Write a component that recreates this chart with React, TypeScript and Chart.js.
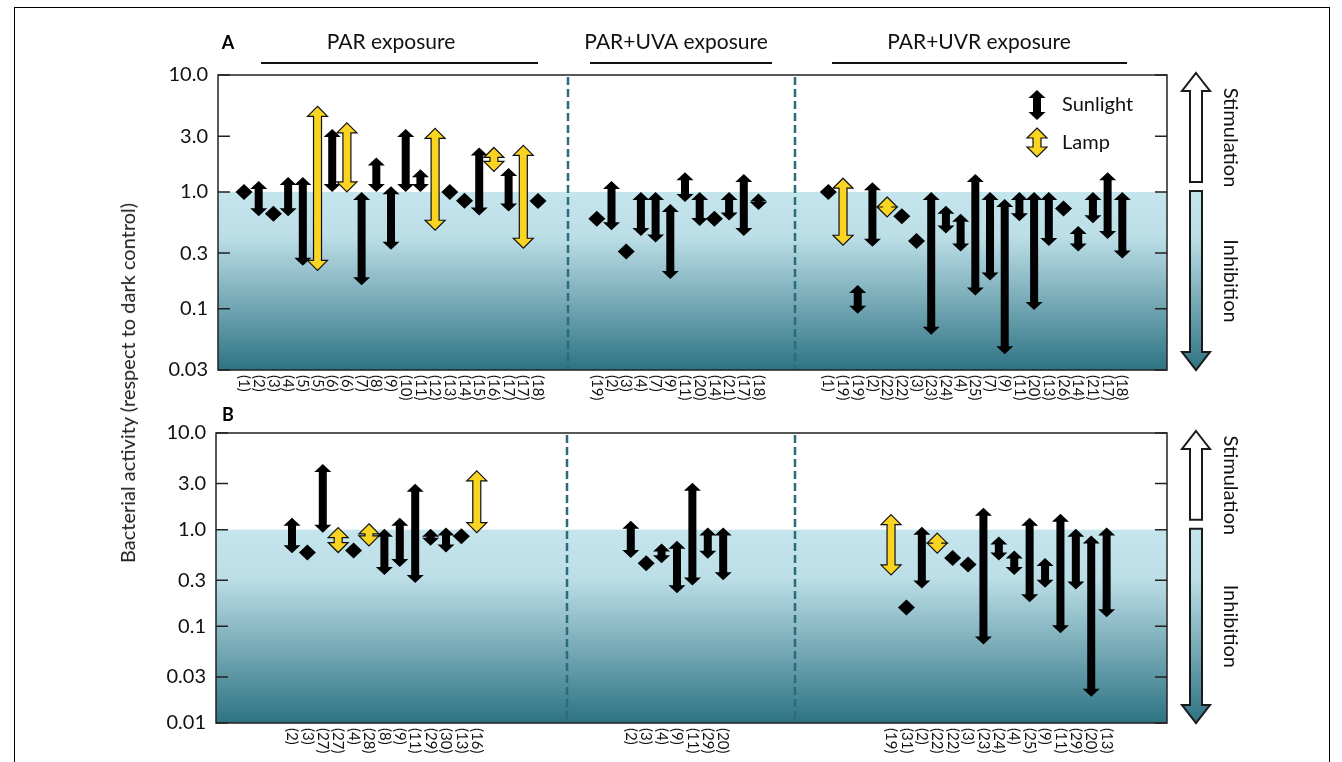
import React, { useEffect, useRef } from 'react';
import { Chart, registerables } from 'chart.js';

Chart.register(...registerables);

const FONT = 'Lato, "Open Sans", sans-serif';
const YELLOW = '#f9d422';

// ---------------- Panel A data ----------------
const aParLabels = ['(1)', '(2)', '(3)', '(4)', '(5)', '(5)', '(6)', '(6)', '(7)', '(8)', '(9)', '(10)', '(11)', '(12)', '(13)', '(14)', '(15)', '(16)', '(17)', '(17)', '(18)'];
const aParHigh = [1.0, 1.24, 0.65, 1.34, 1.34, 5.4, 3.45, 3.9, 1.0, 1.97, 1.12, 3.45, 1.56, 3.5, 1.0, 0.84, 2.4, 2.4, 1.6, 2.5, 0.97];
const aParLow = [1.0, 0.62, 0.65, 0.62, 0.234, 0.213, 1.0, 1.0, 0.159, 1.0, 0.32, 1.0, 1.0, 0.47, 1.0, 0.84, 0.63, 1.5, 0.68, 0.33, 0.72];
const aParSource = ['S', 'S', 'S', 'S', 'S', 'L', 'S', 'L', 'S', 'S', 'S', 'S', 'S', 'L', 'S', 'S', 'S', 'L', 'S', 'L', 'S'];

const aUvaLabels = ['(19)', '(2)', '(3)', '(4)', '(7)', '(9)', '(11)', '(20)', '(14)', '(21)', '(17)', '(18)'];
const aUvaHigh = [0.59, 1.24, 0.31, 1.0, 1.0, 0.79, 1.47, 1.0, 0.59, 1.0, 1.42, 0.97];
const aUvaLow = [0.59, 0.47, 0.31, 0.42, 0.37, 0.18, 0.82, 0.51, 0.59, 0.57, 0.42, 0.7];
const aUvaSource = ['S', 'S', 'S', 'S', 'S', 'S', 'S', 'S', 'S', 'S', 'S', 'S'];

const aUvrLabels = ['(1)', '(19)', '(19)', '(2)', '(22)', '(22)', '(3)', '(23)', '(24)', '(4)', '(25)', '(7)', '(9)', '(11)', '(20)', '(13)', '(26)', '(14)', '(21)', '(17)', '(18)'];
const aUvrHigh = [1.0, 1.31, 0.16, 1.21, 0.85, 0.62, 0.38, 1.0, 0.76, 0.65, 1.42, 1.0, 0.87, 1.0, 1.0, 1.0, 0.72, 0.51, 1.0, 1.47, 1.0];
const aUvrLow = [1.0, 0.35, 0.091, 0.34, 0.65, 0.62, 0.38, 0.06, 0.44, 0.31, 0.13, 0.175, 0.041, 0.56, 0.098, 0.345, 0.72, 0.31, 0.54, 0.395, 0.27];
const aUvrSource = ['S', 'L', 'S', 'S', 'L', 'S', 'S', 'S', 'S', 'S', 'S', 'S', 'S', 'S', 'S', 'S', 'S', 'S', 'S', 'S', 'S'];

// ---------------- Panel B data ----------------
const bParLabels = ['(2)', '(3)', '(27)', '(27)', '(4)', '(28)', '(8)', '(9)', '(11)', '(29)', '(30)', '(13)', '(16)'];
const bParHigh = [1.33, 0.65, 4.79, 1.05, 0.73, 1.15, 1.02, 1.33, 2.98, 1.02, 1.05, 1.02, 4.05];
const bParLow = [0.57, 0.52, 0.93, 0.58, 0.51, 0.68, 0.34, 0.41, 0.28, 0.68, 0.58, 0.72, 0.93];
const bParSource = ['S', 'S', 'S', 'L', 'S', 'L', 'S', 'S', 'S', 'S', 'S', 'S', 'L'];

const bUvaLabels = ['(2)', '(3)', '(4)', '(9)', '(11)', '(29)', '(20)'];
const bUvaHigh = [1.24, 0.45, 0.72, 0.77, 3.05, 1.05, 1.05];
const bUvaLow = [0.51, 0.45, 0.45, 0.22, 0.265, 0.5, 0.3];
const bUvaSource = ['S', 'S', 'S', 'S', 'S', 'S', 'S'];

const bUvrLabels = ['(19)', '(31)', '(2)', '(22)', '(22)', '(3)', '(23)', '(24)', '(4)', '(25)', '(9)', '(11)', '(29)', '(20)', '(13)'];
const bUvrHigh = [1.43, 0.157, 1.07, 0.91, 0.51, 0.435, 1.69, 0.85, 0.61, 1.33, 0.51, 1.46, 1.02, 0.87, 1.05];
const bUvrLow = [0.34, 0.157, 0.246, 0.58, 0.51, 0.435, 0.065, 0.48, 0.34, 0.177, 0.25, 0.085, 0.24, 0.0187, 0.124];
const bUvrSource = ['L', 'S', 'S', 'L', 'S', 'S', 'S', 'S', 'S', 'S', 'S', 'S', 'S', 'S', 'S'];

// ---------------- Axis ticks & texts ----------------
const aYTicks = [0.03, 0.1, 0.3, 1, 3, 10];
const aYTickLabels = ['0.03', '0.1', '0.3', '1.0', '3.0', '10.0'];
const bYTicks = [0.01, 0.03, 0.1, 0.3, 1, 3, 10];
const bYTickLabels = ['0.01', '0.03', '0.1', '0.3', '1.0', '3.0', '10.0'];
const sectionTitles = ['PAR exposure', 'PAR+UVA exposure', 'PAR+UVR exposure'];
const legendLabels = ['Sunlight', 'Lamp'];
const sideLabels = ['Stimulation', 'Inhibition'];
const yTitle = 'Bacterial activity (respect to dark control)';

type Sec = { labels: string[]; high: number[]; low: number[]; src: string[] };

type PanelCfg = {
  top: number;
  height: number;
  padding: { left: number; right: number; top: number; bottom: number };
  yMin: number;
  yMax: number;
  yTicks: number[];
  yTickLabels: string[];
  xMin: number;
  xMax: number;
  sections: Sec[];
  starts: number[];
  dividers: number[];
  letter: string;
  letterPos: [number, number];
  headers?: { text: string; at: number; line: [number, number] }[];
  legend?: boolean;
};

function arrowPath(ctx: CanvasRenderingContext2D, x: number, yA: number, yB: number, hw: number, hl: number, sw: number) {
  let t = Math.min(yA, yB);
  let b = Math.max(yA, yB);
  if (b - t < 2 * hl) {
    const m = (t + b) / 2;
    t = m - hl;
    b = m + hl;
  }
  ctx.beginPath();
  ctx.moveTo(x, t);
  ctx.lineTo(x + hw, t + hl);
  ctx.lineTo(x + sw, t + hl);
  ctx.lineTo(x + sw, b - hl);
  ctx.lineTo(x + hw, b - hl);
  ctx.lineTo(x, b);
  ctx.lineTo(x - hw, b - hl);
  ctx.lineTo(x - sw, b - hl);
  ctx.lineTo(x - sw, t + hl);
  ctx.lineTo(x - hw, t + hl);
  ctx.closePath();
}

function drawSun(ctx: CanvasRenderingContext2D, x: number, yA: number, yB: number) {
  arrowPath(ctx, x, yA, yB, 8.5, 8, 4);
  ctx.fillStyle = '#000';
  ctx.fill();
}

function drawLamp(ctx: CanvasRenderingContext2D, x: number, yA: number, yB: number) {
  arrowPath(ctx, x, yA, yB, 10, 10, 4);
  ctx.fillStyle = YELLOW;
  ctx.fill();
  ctx.lineWidth = 1.2;
  ctx.strokeStyle = '#111';
  ctx.lineJoin = 'miter';
  ctx.stroke();
}

function makeDatasets(sections: Sec[], starts: number[]) {
  const sun: any[] = [];
  const lamp: any[] = [];
  sections.forEach((s, si) => {
    s.labels.forEach((lab, i) => {
      const p = { x: starts[si] + i, y: s.high[i], low: s.low[i], label: lab };
      (s.src[i] === 'L' ? lamp : sun).push(p);
    });
  });
  return [
    { label: legendLabels[0], data: sun, pointRadius: 0, showLine: false, backgroundColor: '#000', borderColor: '#000' },
    { label: legendLabels[1], data: lamp, pointRadius: 0, showLine: false, backgroundColor: YELLOW, borderColor: '#000' },
  ];
}

function arrowPathSingle(ctx: CanvasRenderingContext2D, x: number, t: number, b: number, up: boolean) {
  const hw = 14;
  const hl = 18;
  const sw = 6;
  ctx.beginPath();
  if (up) {
    ctx.moveTo(x, t);
    ctx.lineTo(x + hw, t + hl);
    ctx.lineTo(x + sw, t + hl);
    ctx.lineTo(x + sw, b);
    ctx.lineTo(x - sw, b);
    ctx.lineTo(x - sw, t + hl);
    ctx.lineTo(x - hw, t + hl);
  } else {
    ctx.moveTo(x - sw, t);
    ctx.lineTo(x + sw, t);
    ctx.lineTo(x + sw, b - hl);
    ctx.lineTo(x + hw, b - hl);
    ctx.lineTo(x, b);
    ctx.lineTo(x - hw, b - hl);
    ctx.lineTo(x - sw, b - hl);
  }
  ctx.closePath();
}

function makeDecor(cfg: PanelCfg) {
  return {
    id: 'decor' + cfg.letter,
    beforeDraw(chart: any) {
      const { ctx, chartArea: ca, scales } = chart;
      const x = scales.x;
      const y = scales.y;
      const y1 = y.getPixelForValue(1);
      ctx.save();
      ctx.fillStyle = '#ffffff';
      ctx.fillRect(ca.left, ca.top, ca.width, y1 - ca.top);
      const g = ctx.createLinearGradient(0, y1, 0, ca.bottom);
      g.addColorStop(0, '#c5e5ed');
      g.addColorStop(0.25, '#bcdee7');
      g.addColorStop(1, '#2e7383');
      ctx.fillStyle = g;
      ctx.fillRect(ca.left, y1, ca.width, ca.bottom - y1);
      ctx.strokeStyle = '#2b6b7c';
      ctx.lineWidth = 2.5;
      ctx.setLineDash([8, 4]);
      cfg.dividers.forEach((v) => {
        const px = Math.round(x.getPixelForValue(v));
        ctx.beginPath();
        ctx.moveTo(px, ca.top + 2);
        ctx.lineTo(px, ca.bottom);
        ctx.stroke();
      });
      ctx.restore();
    },
    afterDatasetsDraw(chart: any) {
      const { ctx, chartArea: ca, scales } = chart;
      const x = scales.x;
      const y = scales.y;
      ctx.save();
      // marks
      chart.data.datasets.forEach((ds: any, di: number) => {
        ds.data.forEach((p: any) => {
          const px = x.getPixelForValue(p.x);
          const pt = y.getPixelForValue(p.y);
          const pb = y.getPixelForValue(p.low);
          if (di === 1) drawLamp(ctx, px, pt, pb);
          else drawSun(ctx, px, pt, pb);
        });
      });
      // frame
      ctx.strokeStyle = '#222';
      ctx.lineWidth = 1.5;
      ctx.strokeRect(ca.left, ca.top, ca.width, ca.height);
      // inner ticks, both sides
      cfg.yTicks.forEach((v) => {
        const py = y.getPixelForValue(v);
        ctx.beginPath();
        ctx.moveTo(ca.left, py);
        ctx.lineTo(ca.left + 12, py);
        ctx.moveTo(ca.right - 12, py);
        ctx.lineTo(ca.right, py);
        ctx.stroke();
      });
      // x labels (rotated clockwise)
      ctx.fillStyle = '#111';
      ctx.font = '15px ' + FONT;
      ctx.textAlign = 'left';
      ctx.textBaseline = 'middle';
      chart.data.datasets.forEach((ds: any) => {
        ds.data.forEach((p: any) => {
          const px = x.getPixelForValue(p.x);
          ctx.save();
          ctx.translate(px, ca.bottom + 5);
          ctx.rotate(Math.PI / 2);
          ctx.fillText(p.label, 0, 0);
          ctx.restore();
        });
      });
      // section headers
      if (cfg.headers) {
        ctx.font = '21px ' + FONT;
        ctx.textAlign = 'center';
        ctx.textBaseline = 'middle';
        ctx.fillStyle = '#111';
        ctx.strokeStyle = '#111';
        ctx.lineWidth = 2;
        cfg.headers.forEach((h) => {
          ctx.fillText(h.text, x.getPixelForValue(h.at), ca.top - 33);
          ctx.beginPath();
          ctx.moveTo(x.getPixelForValue(h.line[0]), ca.top - 12);
          ctx.lineTo(x.getPixelForValue(h.line[1]), ca.top - 12);
          ctx.stroke();
        });
      }
      // panel letter
      ctx.font = 'bold 18px ' + FONT;
      ctx.textAlign = 'center';
      ctx.textBaseline = 'middle';
      ctx.fillStyle = '#000';
      ctx.fillText(cfg.letter, cfg.letterPos[0], cfg.letterPos[1]);
      // legend
      if (cfg.legend) {
        const lx = ca.right - 130;
        drawSun(ctx, lx, ca.top + 15, ca.top + 45);
        drawLamp(ctx, lx, ca.top + 53, ca.top + 82);
        ctx.font = '20px ' + FONT;
        ctx.textAlign = 'left';
        ctx.fillStyle = '#111';
        ctx.fillText(legendLabels[0], lx + 25, ca.top + 30);
        ctx.fillText(legendLabels[1], lx + 25, ca.top + 68);
      }
      // side arrows
      const y1 = y.getPixelForValue(1);
      const sx = ca.right + 29;
      ctx.lineWidth = 2;
      ctx.strokeStyle = '#1a1a1a';
      arrowPathSingle(ctx, sx, ca.top - 2, y1 - 10, true);
      ctx.fillStyle = '#ffffff';
      ctx.fill();
      ctx.stroke();
      arrowPathSingle(ctx, sx, y1 - 1, ca.bottom, false);
      const g = ctx.createLinearGradient(0, y1, 0, ca.bottom);
      g.addColorStop(0, '#c5e5ed');
      g.addColorStop(0.25, '#bcdee7');
      g.addColorStop(1, '#2e7383');
      ctx.fillStyle = g;
      ctx.fill();
      ctx.stroke();
      ctx.font = '20px ' + FONT;
      ctx.textAlign = 'center';
      ctx.textBaseline = 'middle';
      ctx.fillStyle = '#111';
      const tx = ca.right + 63;
      ctx.save();
      ctx.translate(tx, (ca.top + y1) / 2 + 4);
      ctx.rotate(Math.PI / 2);
      ctx.fillText(sideLabels[0], 0, 0);
      ctx.restore();
      ctx.save();
      ctx.translate(tx, (y1 + ca.bottom) / 2);
      ctx.rotate(Math.PI / 2);
      ctx.fillText(sideLabels[1], 0, 0);
      ctx.restore();
      ctx.restore();
    },
  };
}

function Panel({ cfg }: { cfg: PanelCfg }) {
  const ref = useRef<HTMLCanvasElement | null>(null);
  useEffect(() => {
    if (!ref.current) return;
    const chart = new Chart(ref.current, {
      type: 'scatter',
      data: { datasets: makeDatasets(cfg.sections, cfg.starts) as any },
      options: {
        animation: false,
        responsive: false,
        maintainAspectRatio: false,
        devicePixelRatio: 1,
        events: [],
        layout: { padding: cfg.padding },
        plugins: { legend: { display: false }, tooltip: { enabled: false }, title: { display: false } },
        scales: {
          x: { type: 'linear', display: false, min: cfg.xMin, max: cfg.xMax },
          y: {
            type: 'logarithmic',
            position: 'left',
            min: cfg.yMin,
            max: cfg.yMax,
            afterBuildTicks: (s: any) => {
              s.ticks = cfg.yTicks.map((v) => ({ value: v }));
            },
            afterFit: (s: any) => {
              s.width = 60;
            },
            grid: { display: false, drawTicks: false },
            border: { display: false },
            ticks: {
              autoSkip: false,
              padding: 10,
              color: '#111',
              font: { family: FONT, size: 20 },
              callback: (v: any) => {
                const i = cfg.yTicks.findIndex((t) => Math.abs(t - Number(v)) / t < 1e-6);
                return i >= 0 ? cfg.yTickLabels[i] : '';
              },
            },
          } as any,
        },
      },
      plugins: [makeDecor(cfg)],
    });
    return () => chart.destroy();
  }, [cfg]);
  return (
    <canvas
      ref={ref}
      width={1342}
      height={cfg.height}
      style={{ position: 'absolute', left: 0, top: cfg.top, width: 1342, height: cfg.height }}
    />
  );
}

const panelA: PanelCfg = {
  top: 0,
  height: 420,
  padding: { left: 158, right: 175, top: 75, bottom: 50 },
  yMin: 0.03,
  yMax: 10,
  yTicks: aYTicks,
  yTickLabels: aYTickLabels,
  xMin: -1.77,
  xMax: 62.79,
  sections: [
    { labels: aParLabels, high: aParHigh, low: aParLow, src: aParSource },
    { labels: aUvaLabels, high: aUvaHigh, low: aUvaLow, src: aUvaSource },
    { labels: aUvrLabels, high: aUvrHigh, low: aUvrLow, src: aUvrSource },
  ],
  starts: [0, 24, 39.75],
  dividers: [22.04, 37.48],
  letter: 'A',
  letterPos: [228, 43],
  headers: [
    { text: sectionTitles[0], at: 10.0, line: [1.16, 20] },
    { text: sectionTitles[1], at: 29.39, line: [23.54, 35.92] },
    { text: sectionTitles[2], at: 50.0, line: [40, 60.07] },
  ],
  legend: true,
};

const panelB: PanelCfg = {
  top: 400,
  height: 362,
  padding: { left: 156, right: 175, top: 33, bottom: 39 },
  yMin: 0.01,
  yMax: 10,
  yTicks: bYTicks,
  yTickLabels: bYTickLabels,
  xMin: -4.935,
  xMax: 56.82,
  sections: [
    { labels: bParLabels, high: bParHigh, low: bParLow, src: bParSource },
    { labels: bUvaLabels, high: bUvaHigh, low: bUvaLow, src: bUvaSource },
    { labels: bUvrLabels, high: bUvrHigh, low: bUvrLow, src: bUvrSource },
  ],
  starts: [0, 22, 38.9],
  dividers: [17.86, 32.66],
  letter: 'B',
  letterPos: [228, 15],
};

export default function App() {
  return (
    <div style={{ position: 'fixed', left: 0, top: 0, width: 1342, height: 762, background: '#fff', overflow: 'hidden', fontFamily: FONT }}>
      <div style={{ position: 'absolute', left: 14, top: 7, width: 1316, height: 800, border: '1px solid #000', boxSizing: 'border-box' }} />
      <Panel cfg={panelA} />
      <Panel cfg={panelB} />
      <div
        style={{
          position: 'absolute',
          left: 127,
          top: 383,
          transform: 'translate(-50%, -50%) rotate(-90deg)',
          whiteSpace: 'nowrap',
          fontSize: 20,
          color: '#222',
          fontFamily: FONT,
        }}
      >
        {yTitle}
      </div>
    </div>
  );
}
